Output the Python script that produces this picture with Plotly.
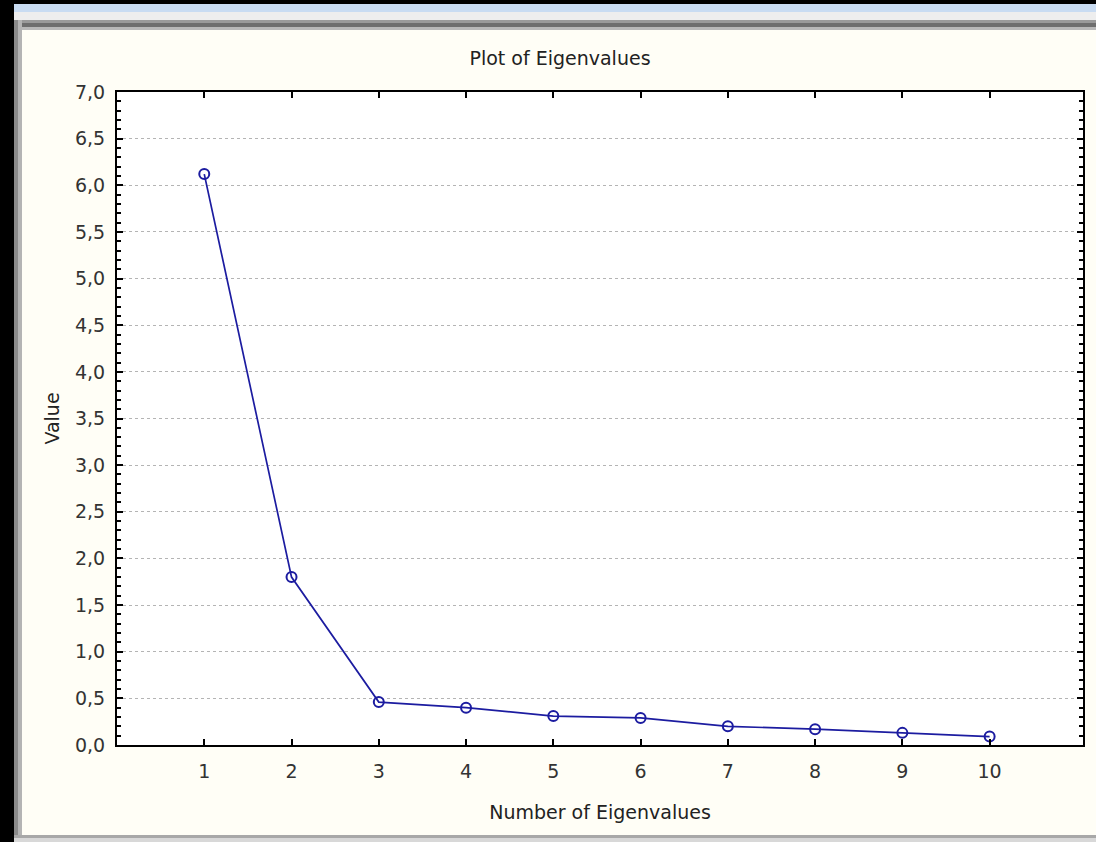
import plotly.graph_objects as go

# Data
eigen_numbers = [1, 2, 3, 4, 5, 6, 7, 8, 9, 10]
eigen_values = [6.12, 1.80, 0.46, 0.40, 0.31, 0.29, 0.20, 0.17, 0.13, 0.09]
y_tick_vals = [0.0, 0.5, 1.0, 1.5, 2.0, 2.5, 3.0, 3.5, 4.0, 4.5, 5.0, 5.5, 6.0, 6.5, 7.0]
y_tick_text = ["0,0", "0,5", "1,0", "1,5", "2,0", "2,5", "3,0", "3,5", "4,0", "4,5",
               "5,0", "5,5", "6,0", "6,5", "7,0"]

W, H = 1096, 842
L, R, T, B = 117, 13, 92, 97
PW, PH = W - L - R, H - T - B


def px(x):
    return (x - L) / PW


def py(y):
    return (H - B - y) / PH


fig = go.Figure()
fig.add_trace(go.Scatter(
    x=eigen_numbers, y=eigen_values, mode="lines+markers",
    line=dict(color="#1c1ca0", width=1.7),
    marker=dict(symbol="circle-open", size=10, color="#1c1ca0", line=dict(width=2)),
    showlegend=False, hoverinfo="x+y"))

shapes = []


def rect(x0, y0, x1, y1, color):
    shapes.append(dict(type="rect", xref="paper", yref="paper",
                       x0=px(x0), x1=px(x1), y0=py(y1), y1=py(y0),
                       fillcolor=color, line=dict(width=0), layer="below"))


# window frame pieces (screenshot chrome)
rect(0, 0, W, 4, "#000000")
rect(0, 4, W, 12, "#c9dcf2")
rect(0, 12, W, 20, "#eeeeee")
rect(14, 20, W, 23, "#9a9a9a")
rect(14, 23, W, 27, "#6e6e6e")
rect(14, 27, W, 30, "#b8b8b8")
rect(0, 0, 14, H, "#000000")
rect(14, 20, 18, H, "#8a8a8a")
rect(18, 20, 22, H, "#b4b4b4")
rect(14, 835, W, 838, "#a8a8a8")
rect(14, 838, W, H, "#d8d8d8")

FONT = "DejaVu Sans, Verdana, sans-serif"

fig.update_layout(
    width=W, height=H,
    margin=dict(l=L, r=R, t=T, b=B),
    paper_bgcolor="#fffef6",
    plot_bgcolor="#ffffff",
    font=dict(family=FONT, size=19, color="#333333"),
    title=dict(text="Plot of Eigenvalues", x=560 / W, xanchor="center",
               y=1 - 58 / H, yanchor="middle", font=dict(size=19, color="#222222")),
    shapes=shapes,
    xaxis=dict(
        range=[0, 11.07], tickmode="array", tickvals=eigen_numbers,
        ticks="inside", ticklen=6, tickwidth=2, tickcolor="#000000",
        ticklabelstandoff=8,
        showline=True, linecolor="#000000", linewidth=2, mirror="ticks",
        showgrid=False, zeroline=False,
        title=dict(text="Number of Eigenvalues", standoff=25,
                   font=dict(size=19, color="#222222")),
    ),
    yaxis=dict(
        range=[0, 7.0], tickmode="array", tickvals=y_tick_vals, ticktext=y_tick_text,
        ticks="inside", ticklen=6, tickwidth=2, tickcolor="#000000",
        ticklabelstandoff=6,
        showline=True, linecolor="#000000", linewidth=2, mirror="ticks",
        showgrid=True, gridcolor="#b4b4b4", griddash="dot", gridwidth=1,
        zeroline=False,
        minor=dict(dtick=0.1, ticks="inside", ticklen=4, tickwidth=2,
                   tickcolor="#000000", showgrid=False),
        title=dict(text="Value", standoff=10, font=dict(size=19, color="#222222")),
    ),
)

fig.write_html("out.html",
               config={"displayModeBar": False},
               post_script="document.body.style.margin='0';document.body.style.overflow='hidden';")
